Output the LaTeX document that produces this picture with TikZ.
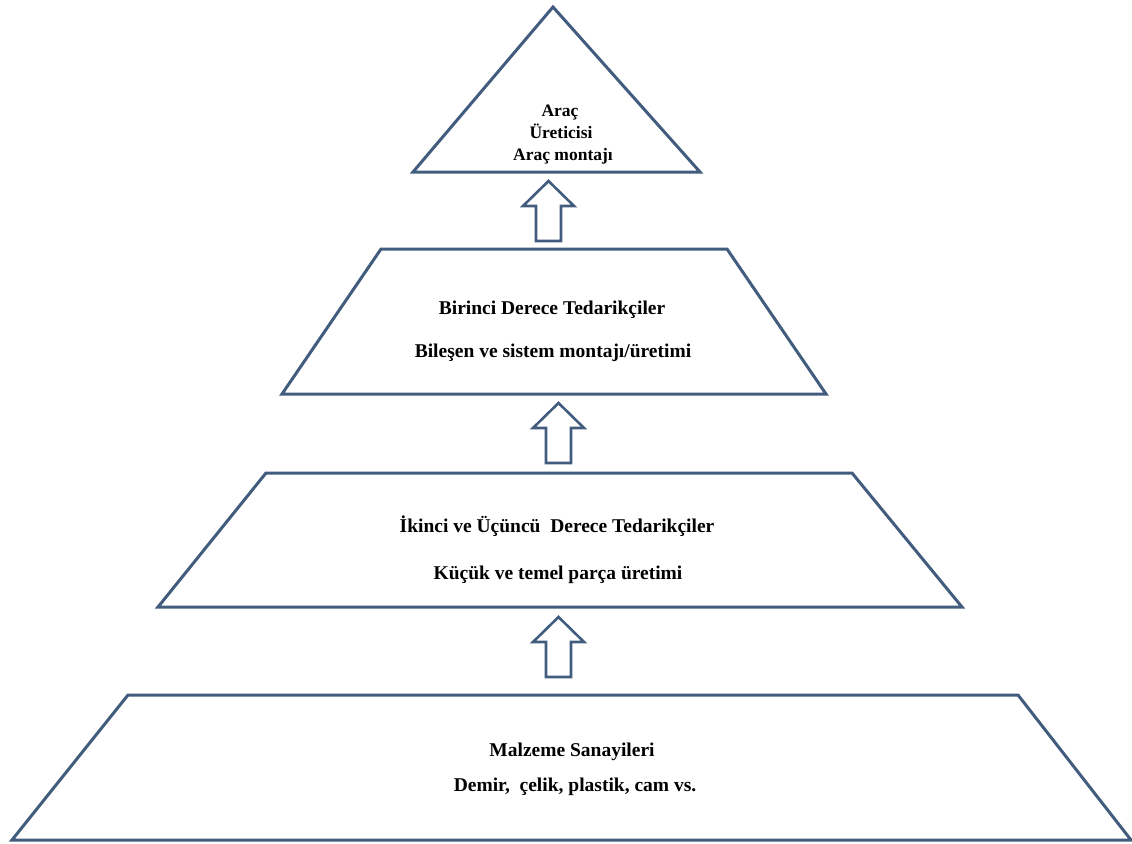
\documentclass[tikz,border=0pt]{standalone}
\usepackage{fontspec}
\setmainfont{Liberation Serif}
\definecolor{tierline}{RGB}{66,92,126}
\begin{document}
\begin{tikzpicture}[x=1pt,y=-1pt,
  tier/.style={draw=tierline,line width=3pt,line join=miter,fill=white},
  tiertext/.style={font=\fontsize{19.5}{23}\selectfont\bfseries,text=black,inner sep=0pt,anchor=base},
  toptext/.style={font=\fontsize{17.5}{22}\selectfont\bfseries,text=black,inner sep=0pt,anchor=base},
  uparrow/.pic={\draw[tierline,line width=2.6pt,line join=miter,fill=white]
      (0,0) -- (25.5,25) -- (12.5,25) -- (12.5,60) -- (-12.5,60) -- (-12.5,25) -- (-25.5,25) -- cycle;}]
\useasboundingbox (0,0) rectangle (1132,843);

% pyramid tiers, top to bottom
\draw[tier] (553,7) -- (700,172) -- (413,172) -- cycle;
\draw[tier] (381,249) -- (727,249) -- (826,394) -- (282,394) -- cycle;
\draw[tier] (266,473) -- (852,473) -- (962,607) -- (158,607) -- cycle;
\draw[tier] (128,695) -- (1018,695) -- (1131,840) -- (12,840) -- cycle;

% hollow block arrows between the tiers
\pic at (548.5,181) {uparrow};
\pic at (558.5,403) {uparrow};
\pic at (558.5,617) {uparrow};

% texts
\node[toptext] (t1a) at (560,116) {Araç};
\node[toptext] (t1b) at (561,138) {Üreticisi};
\node[toptext] (t1c) at (563,160) {Araç montajı};

\node[tiertext] (t2a) at (552,314) {Birinci Derece Tedarikçiler};
\node[tiertext] (t2b) at (553,357) {Bileşen ve sistem montajı/üretimi};

\node[tiertext] (t3a) at (557,532) {İkinci ve Üçüncü\ \ Derece Tedarikçiler};
\node[tiertext] (t3b) at (558,579) {Küçük ve temel parça üretimi};

\node[tiertext] (t4a) at (572,756) {Malzeme Sanayileri};
\node[tiertext] (t4b) at (575,791) {Demir,\ \ çelik, plastik, cam vs.};
\end{tikzpicture}
\end{document}
